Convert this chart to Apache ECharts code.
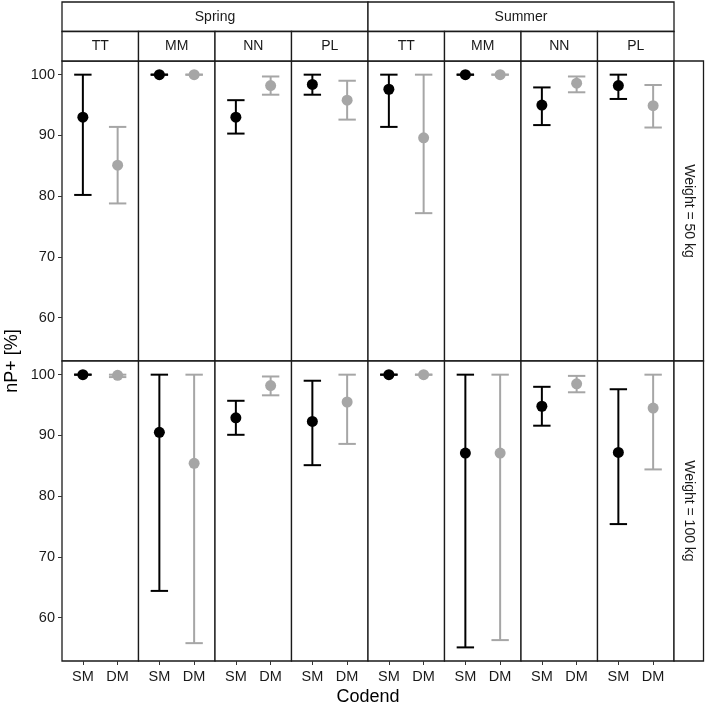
<!DOCTYPE html>
<html>
<head>
<meta charset="utf-8">
<script src="https://cdn.jsdelivr.net/npm/echarts@6/dist/echarts.min.js"></script>
<style>
  html, body { margin: 0; padding: 0; background: #fff; }
  #chart { width: 706px; height: 706px; }
</style>
</head>
<body>
<div id="chart"></div>
<script>
// facets
const seasons = ['Spring', 'Summer'];
const sites = ['TT', 'MM', 'NN', 'PL'];
const weights = ['Weight = 50 kg', 'Weight = 100 kg'];
const codend = ['SM', 'DM'];
const yTicks = [60, 70, 80, 90, 100];

// values per panel: Spring TT, MM, NN, PL, Summer TT, MM, NN, PL
const sm50 = [93.0, 100, 93.0, 98.4, 97.6, 100, 95.0, 98.2];
const sm50Lo = [80.2, 100, 90.3, 96.7, 91.4, 100, 91.7, 96.0];
const sm50Hi = [100, 100, 95.8, 100, 100, 100, 97.9, 100];
const dm50 = [85.1, 100, 98.2, 95.8, 89.6, 100, 98.6, 94.9];
const dm50Lo = [78.8, 100, 96.7, 92.6, 77.2, 100, 97.1, 91.3];
const dm50Hi = [91.4, 100, 99.7, 99.0, 100, 100, 99.7, 98.3];

const sm100 = [100, 90.5, 92.9, 92.3, 100, 87.1, 94.8, 87.2];
const sm100Lo = [100, 64.4, 90.1, 85.1, 100, 55.1, 91.6, 75.4];
const sm100Hi = [100, 100, 95.7, 99.0, 100, 100, 98.0, 97.6];
const dm100 = [99.9, 85.4, 98.2, 95.5, 100, 87.1, 98.5, 94.5];
const dm100Lo = [99.6, 55.8, 96.6, 88.6, 100, 56.3, 97.1, 84.4];
const dm100Hi = [100, 100, 99.7, 100, 100, 100, 99.8, 100];

const rows = [
  { sm: sm50, smLo: sm50Lo, smHi: sm50Hi, dm: dm50, dmLo: dm50Lo, dmHi: dm50Hi },
  { sm: sm100, smLo: sm100Lo, smHi: sm100Hi, dm: dm100, dmLo: dm100Lo, dmHi: dm100Hi }
];

const colors = ['#000000', '#a6a6a6'];

// layout
const left0 = 62, top0 = 61, pw = 76.5, ph = 300;
const stripH = 29.5;
const yMin = 52.86, yMax = 102.25;
const font = 'Liberation Sans, Arial';

const chart = echarts.init(document.getElementById('chart'));

const grid = [], xAxis = [], yAxis = [], series = [];
let g = 0;
for (let r = 0; r < 2; r++) {
  for (let c = 0; c < 8; c++) {
    grid.push({
      left: left0 + c * pw, top: top0 + r * ph, width: pw, height: ph,
      show: true, borderColor: '#1a1a1a', borderWidth: 1.3, backgroundColor: '#fff'
    });
    const bottom = r === 1;
    xAxis.push({
      type: 'value', gridIndex: g, min: 0.4, max: 2.6,
      splitLine: { show: false },
      axisLine: { show: false },
      axisTick: { show: bottom, customValues: [1, 2], length: 4, lineStyle: { color: '#333' } },
      axisLabel: {
        show: bottom, customValues: [1, 2], margin: 8,
        formatter: v => codend[Math.round(v) - 1],
        color: '#1a1a1a', fontSize: 14.5, fontFamily: font
      }
    });
    const first = c === 0;
    yAxis.push({
      type: 'value', gridIndex: g, min: yMin, max: yMax,
      splitLine: { show: false },
      axisLine: { show: false },
      axisTick: { show: first, customValues: yTicks, length: 4, lineStyle: { color: '#333' } },
      axisLabel: {
        show: first, customValues: yTicks, margin: 7,
        color: '#1a1a1a', fontSize: 14.5, fontFamily: font
      }
    });
    const d = rows[r];
    series.push({
      type: 'custom', xAxisIndex: g, yAxisIndex: g, z: 2,
      data: [[1, d.smLo[c], d.smHi[c]], [2, d.dmLo[c], d.dmHi[c]]],
      renderItem: (params, api) => {
        const x = api.value(0);
        const lo = api.coord([x, api.value(1)]);
        const hi = api.coord([x, api.value(2)]);
        const hw = api.size([0.5, 0])[0] / 2;
        const col = colors[params.dataIndex];
        const st = { stroke: col, lineWidth: 2 };
        return {
          type: 'group',
          children: [
            { type: 'line', shape: { x1: lo[0], y1: lo[1], x2: hi[0], y2: hi[1] }, style: st },
            { type: 'line', shape: { x1: lo[0] - hw, y1: lo[1], x2: lo[0] + hw, y2: lo[1] }, style: st },
            { type: 'line', shape: { x1: hi[0] - hw, y1: hi[1], x2: hi[0] + hw, y2: hi[1] }, style: st }
          ]
        };
      }
    });
    series.push({
      type: 'scatter', xAxisIndex: g, yAxisIndex: g, z: 3,
      symbol: 'circle', symbolSize: 11,
      itemStyle: { opacity: 1 },
      data: [
        { value: [1, d.sm[c]], itemStyle: { color: colors[0], opacity: 1 } },
        { value: [2, d.dm[c]], itemStyle: { color: colors[1], opacity: 1 } }
      ]
    });
    g++;
  }
}

// facet strips
const stripStyle = { fill: '#fff', stroke: '#1a1a1a', lineWidth: 1.3 };
const txt = { fill: '#1a1a1a', fontSize: 14, fontFamily: font };
const graphic = [];
seasons.forEach((s, i) => {
  const x = left0 + i * 4 * pw;
  graphic.push({ type: 'rect', shape: { x: x, y: top0 - 2 * stripH, width: 4 * pw, height: stripH }, style: stripStyle });
  graphic.push({ type: 'text', x: x + 2 * pw, y: top0 - 1.5 * stripH,
    style: Object.assign({ text: s, align: 'center', verticalAlign: 'middle' }, txt) });
  sites.forEach((p, j) => {
    const sx = x + j * pw;
    graphic.push({ type: 'rect', shape: { x: sx, y: top0 - stripH, width: pw, height: stripH }, style: stripStyle });
    graphic.push({ type: 'text', x: sx + pw / 2, y: top0 - stripH / 2,
      style: Object.assign({ text: p, align: 'center', verticalAlign: 'middle' }, txt) });
  });
});
weights.forEach((w, r) => {
  const x = left0 + 8 * pw;
  graphic.push({ type: 'rect', shape: { x: x, y: top0 + r * ph, width: stripH, height: ph }, style: stripStyle });
  graphic.push({ type: 'text', x: x + stripH / 2, y: top0 + r * ph + ph / 2, rotation: -Math.PI / 2,
    style: Object.assign({ text: w, align: 'center', verticalAlign: 'middle' }, txt) });
});
// axis titles
graphic.push({ type: 'text', x: 12, y: top0 + ph, rotation: Math.PI / 2,
  style: { text: 'nP+ [%]', align: 'center', verticalAlign: 'middle', fill: '#000', fontSize: 18, fontFamily: font } });
graphic.push({ type: 'text', x: left0 + 4 * pw, y: 697,
  style: { text: 'Codend', align: 'center', verticalAlign: 'middle', fill: '#000', fontSize: 18, fontFamily: font } });

chart.setOption({
  animation: false,
  backgroundColor: '#fff',
  grid, xAxis, yAxis, series, graphic
});
</script>
</body>
</html>
